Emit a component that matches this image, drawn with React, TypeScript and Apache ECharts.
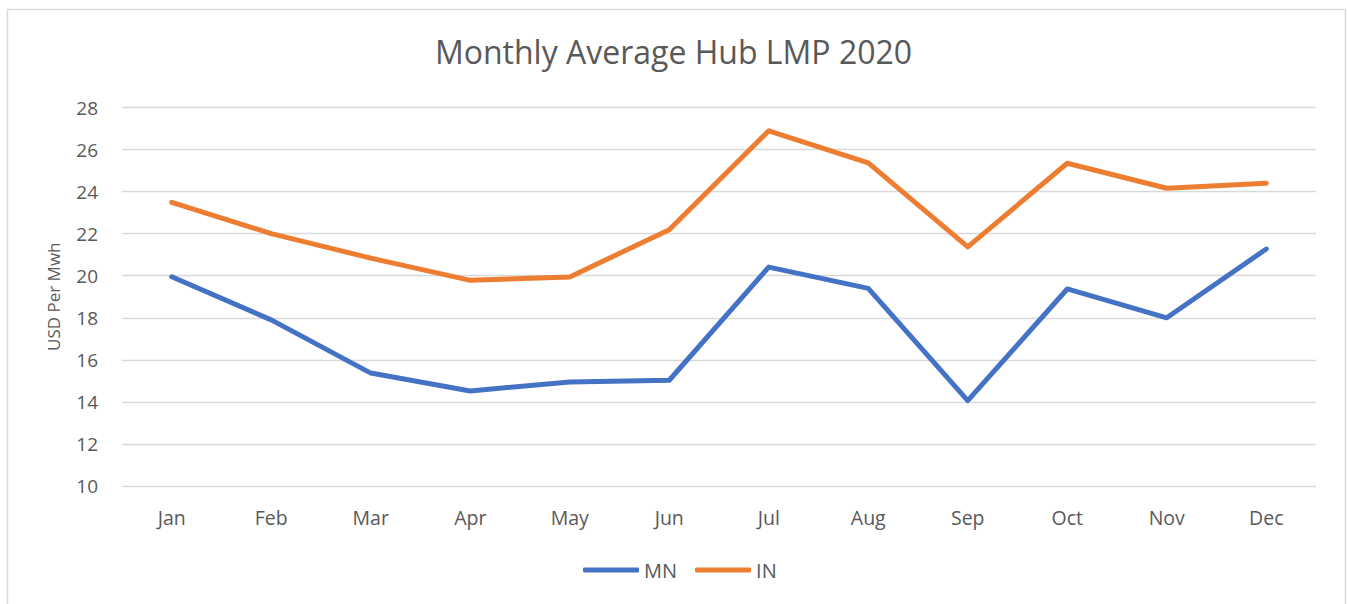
import React, { useEffect, useRef } from "react";
import * as echarts from "echarts";

const months = ["Jan", "Feb", "Mar", "Apr", "May", "Jun", "Jul", "Aug", "Sep", "Oct", "Nov", "Dec"];
const mnValues = [19.95, 17.9, 15.37, 14.52, 14.95, 15.03, 20.41, 19.4, 14.06, 19.37, 18.0, 21.27];
const inValues = [23.49, 22.0, 20.84, 19.78, 19.94, 22.19, 26.89, 25.37, 21.37, 25.35, 24.16, 24.4];
const chartTitle = "Monthly Average Hub LMP 2020";
const yAxisName = "USD Per Mwh";

const FONT = "'Open Sans', sans-serif";
const GREY = "#595959";

export default function App() {
  const ref = useRef<HTMLDivElement>(null);
  useEffect(() => {
    if (!ref.current) return;
    const chart = echarts.init(ref.current, undefined, { renderer: "svg" });
    chart.setOption({
      animation: false,
      backgroundColor: "#ffffff",
      textStyle: { fontFamily: FONT },
      title: {
        text: chartTitle,
        left: "center",
        top: 30,
        textStyle: { fontFamily: FONT, fontSize: 32, fontWeight: "normal", color: GREY },
      },
      graphic: [
        {
          type: "rect",
          shape: { x: 7.5, y: 9.5, width: 1338, height: 640 },
          style: { fill: "none", stroke: "#d9d9d9", lineWidth: 1.5 },
          silent: true,
        },
      ],
      legend: {
        bottom: 19,
        left: 578,
        itemWidth: 56,
        itemHeight: 5,
        itemGap: 18,
        icon: "roundRect",
        textStyle: { fontFamily: FONT, fontSize: 20, color: GREY, padding: [0, 0, 0, 0] },
        data: ["MN", "IN"],
      },
      grid: { left: 122, right: 31, top: 107.5, bottom: 118, containLabel: false },
      xAxis: {
        type: "category",
        data: months,
        boundaryGap: true,
        axisLine: { show: false },
        axisTick: { show: false },
        axisLabel: { fontFamily: FONT, fontSize: 19.5, color: GREY, margin: 21 },
      },
      yAxis: {
        type: "value",
        min: 10,
        max: 28,
        interval: 2,
        name: yAxisName,
        nameLocation: "middle",
        nameRotate: 90,
        nameGap: 60,
        nameTextStyle: { fontFamily: FONT, fontSize: 17, color: GREY },
        axisLine: { show: false },
        axisTick: { show: false },
        axisLabel: { fontFamily: FONT, fontSize: 19, color: GREY, margin: 24 },
        splitLine: { lineStyle: { color: "#d9d9d9", width: 1.3 } },
      },
      series: [
        {
          name: "MN",
          type: "line",
          data: mnValues,
          symbol: "none",
          lineStyle: { color: "#4472C4", width: 5, cap: "round", join: "round" },
          itemStyle: { color: "#4472C4" },
        },
        {
          name: "IN",
          type: "line",
          data: inValues,
          symbol: "none",
          lineStyle: { color: "#ED7D31", width: 5, cap: "round", join: "round" },
          itemStyle: { color: "#ED7D31" },
        },
      ],
    });
    return () => chart.dispose();
  }, []);
  return (
    <div
      ref={ref}
      style={{ position: "fixed", left: 0, top: 0, width: 1347, height: 604 }}
    />
  );
}
